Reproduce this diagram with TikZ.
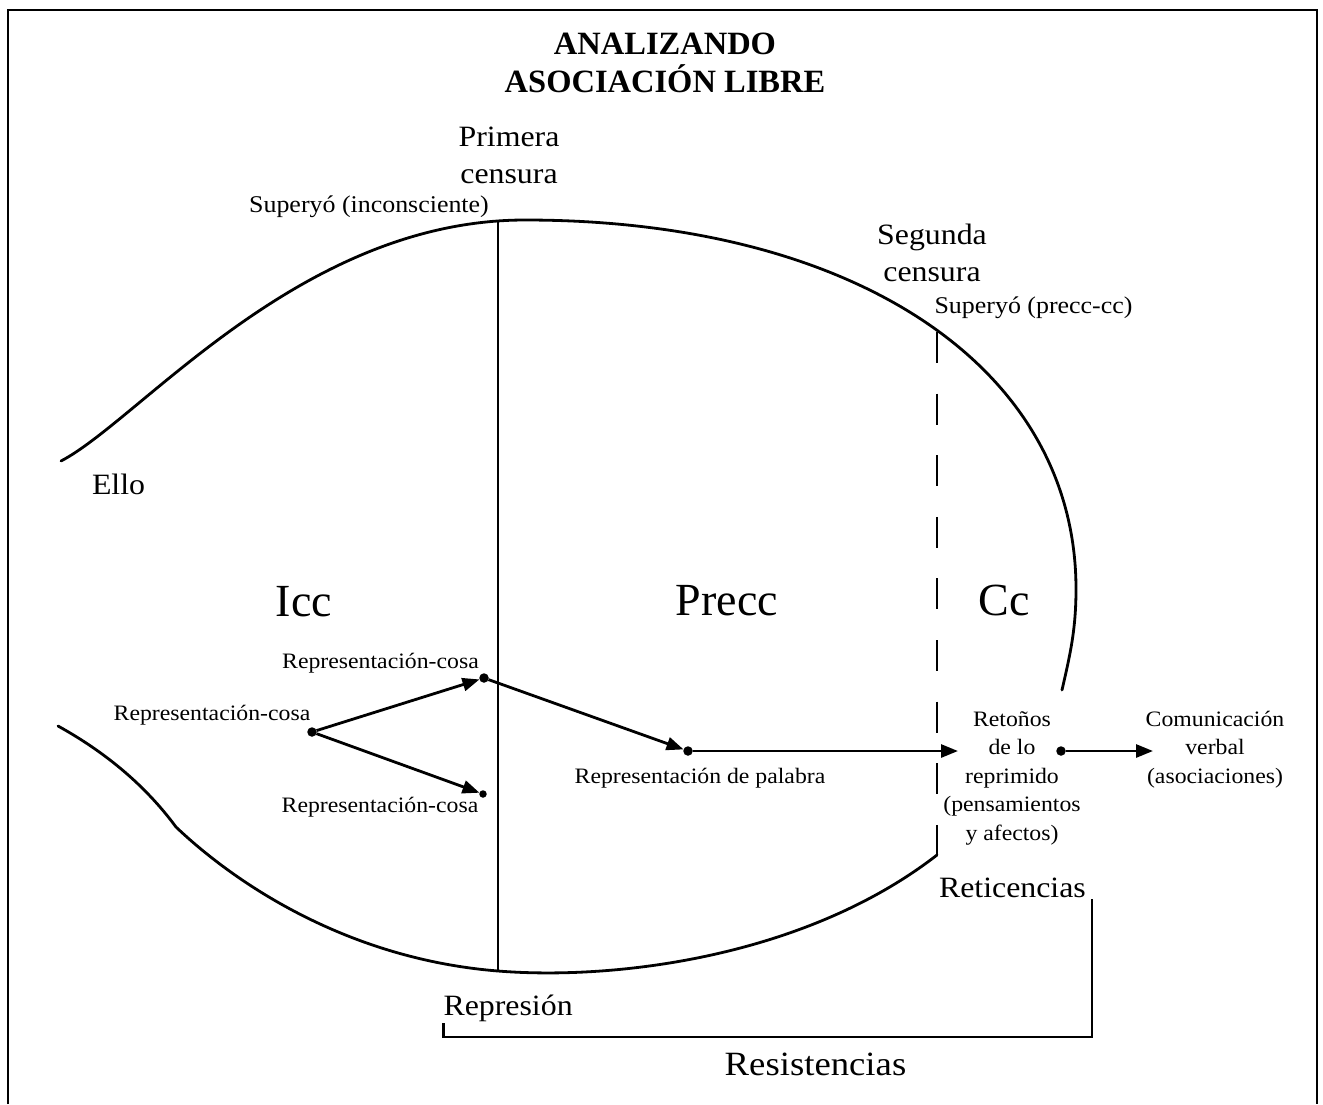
\documentclass[tikz,border=0pt]{standalone}
\usepackage{fontspec}
\setmainfont{Liberation Serif}[FakeStretch=1.08]
\newfontfamily\plainserif{Liberation Serif}
\usetikzlibrary{arrows.meta}
\begin{document}
\begin{tikzpicture}[x=1pt,y=-1pt,
  every node/.style={inner sep=0pt, outer sep=0pt},
  lbl/.style={font=\fontsize{22}{28.5}\selectfont, align=center, anchor=base},
  mid/.style={font=\fontsize{29.5}{37}\selectfont, align=center, anchor=base},
  sup/.style={font=\fontsize{24}{29}\selectfont, anchor=base},
  big/.style={font=\plainserif\fontsize{46}{50}\selectfont, anchor=base},
  titlestyle/.style={font=\plainserif\bfseries\fontsize{32.5}{38}\selectfont, align=center, anchor=base},
  curve/.style={line width=2.8pt, line cap=round, line join=round},
  thinline/.style={line width=2pt},
  arr/.style={line width=2.8pt, -{Triangle[length=17pt,width=13pt]}},
  dot/.style={circle, fill=black, minimum size=9.5pt, inner sep=0pt},
]
\useasboundingbox (0,0) rectangle (1323,1104);
\draw[line width=2.5pt] (8,1104) -- (8,10) -- (1317,10) -- (1317,1104);

% title (base anchor = last line)
\node[titlestyle] (title) at (665,92) {ANALIZANDO\\ASOCIACIÓN LIBRE};

% outlines
\draw[curve] (61,461) .. controls (140,420) and (300,220) .. (525,220)
  .. controls (856,220) and (1076,368) .. (1076,589)
  .. controls (1076,630) and (1070,655) .. (1062,690);
\draw[curve] (58,726) .. controls (105,752) and (145,785) .. (176,827)
  .. controls (236,884) and (348,959) .. (498,971)
  .. controls (618,980.6) and (807,956) .. (937,855);
\draw[thinline] (498,222) -- (498,971);
\draw[line width=2.3pt, dash pattern=on 31pt off 30.6pt] (937,332) -- (937,855);

% labels
\node[mid] (primera) at (509,183) {Primera\\censura};
\node[sup] (supinc) at (369,212) {Superyó (inconsciente)};
\node[mid] (segunda) at (932,281.6) {Segunda\\censura};
\node[sup] (supprecc) at (1033.5,313) {Superyó (precc-cc)};
\node[mid, anchor=base west] (ello) at (92,494) {Ello};
\node[big] (icc) at (304,616) {Icc};
\node[big] (precc) at (727,615) {Precc};
\node[big] (cc) at (1004.5,615) {Cc};

\node[lbl] (rc1) at (380.5,668) {Representación-cosa};
\node[lbl] (rc0) at (212,720) {Representación-cosa};
\node[lbl] (rc2) at (380,812) {Representación-cosa};
\node[lbl] (rp) at (700,783) {Representación de palabra};
\node[lbl] (ret) at (1012,840) {Retoños\\de lo\\reprimido\\(pensamientos\\y afectos)};
\node[lbl] (com) at (1215,783) {Comunicación\\verbal\\(asociaciones)};

\node[mid, anchor=base west] (retic) at (939,897) {Reticencias};
\node[mid, anchor=base west] (repres) at (443.5,1015) {Represión};
\node[font=\fontsize{34}{40}\selectfont, anchor=base] (resist) at (815.5,1075) {Resistencias};

% bracket
\draw[line width=2.8pt] (443.5,1023) -- (443.5,1037) -- (1092,1037) -- (1092,899);

% dots and arrows
\node[dot] (s) at (312,732) {};
\node[dot] (t1) at (484,678) {};
\node[dot, minimum size=7.5pt] (t2) at (483,794) {};
\node[dot] (p) at (688,751) {};
\coordinate (r) at (958,751);
\node[dot] (q) at (1061,751) {};
\coordinate (c) at (1153,751);
\draw[arr] (s) -- (t1);
\draw[arr] (s) -- (t2);
\draw[arr] (t1) -- (p);
\draw[arr] (p) -- (r);
\draw[arr] (q) -- (c);
\end{tikzpicture}
\end{document}
